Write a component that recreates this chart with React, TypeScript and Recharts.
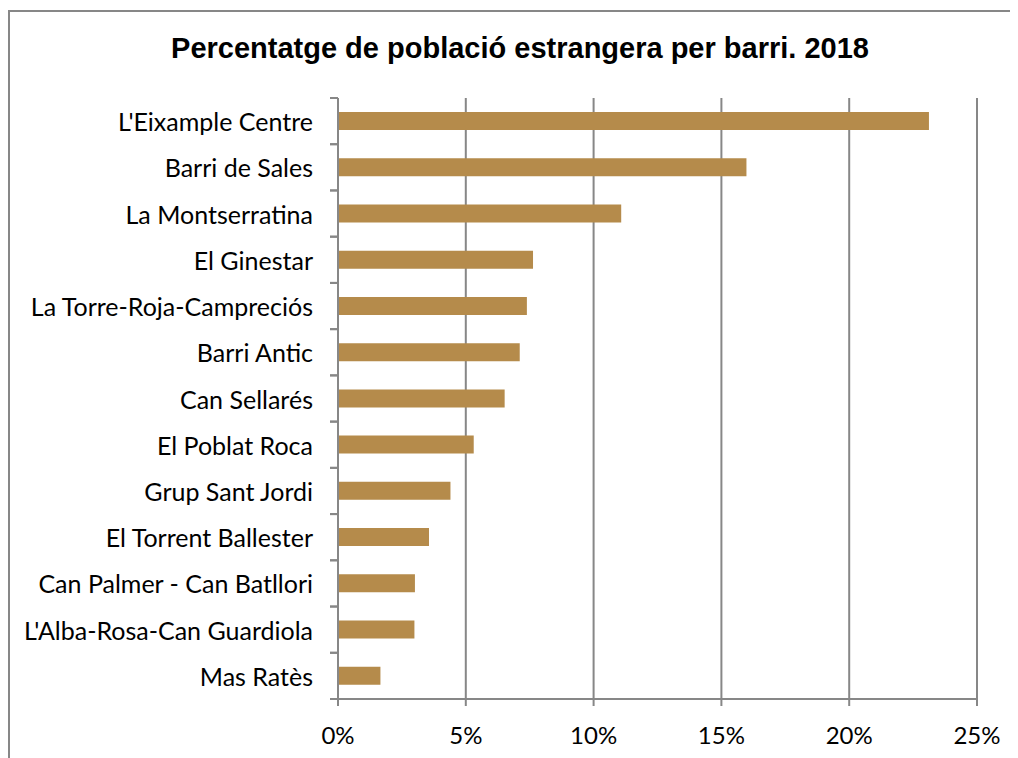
import React from "react";
import { BarChart, Bar, XAxis, YAxis, CartesianGrid } from "recharts";

const title = "Percentatge de població estrangera per barri. 2018";
const barris = [
  "L'Eixample Centre",
  "Barri de Sales",
  "La Montserratina",
  "El Ginestar",
  "La Torre-Roja-Campreciós",
  "Barri Antic",
  "Can Sellarés",
  "El Poblat Roca",
  "Grup Sant Jordi",
  "El Torrent Ballester",
  "Can Palmer - Can Batllori",
  "L'Alba-Rosa-Can Guardiola",
  "Mas Ratès",
];
const percentatges = [23.12, 15.98, 11.08, 7.63, 7.39, 7.11, 6.52, 5.31, 4.4, 3.56, 3.01, 2.99, 1.66];
const xTicks = [0, 5, 10, 15, 20, 25];

const data = barris.map((name, i) => ({ name, value: percentatges[i] }));

const W = 1010;
const H = 750;
const MARGIN = { top: 90, right: 41, bottom: 9, left: 0 };
const X_AXIS_H = 50;
const Y_AXIS_W = 330;
const GRAY = "#878787";
const FONT = "Lato, 'Open Sans', sans-serif";
const HALF_BAND = (H - MARGIN.top - MARGIN.bottom - X_AXIS_H) / barris.length / 2;

const YTick = (props: any) => {
  const { x, y, payload } = props;
  return (
    <g>
      <line x1={x - 8} x2={x} y1={y - HALF_BAND} y2={y - HALF_BAND} stroke={GRAY} strokeWidth={2} />
      <line x1={x - 8} x2={x} y1={y + HALF_BAND} y2={y + HALF_BAND} stroke={GRAY} strokeWidth={2} />
      <text
        x={x - 25}
        y={y}
        textAnchor="end"
        dominantBaseline="central"
        fontFamily={FONT}
        fontSize={25}
        fill="#000"
      >
        {payload.value}
      </text>
    </g>
  );
};

export default function App() {
  return (
    <div style={{ position: "relative", width: W, height: H, background: "#fff", overflow: "hidden" }}>
      <style>{`html, body { overflow: hidden; }`}</style>
      <svg
        width={W}
        height={H}
        style={{ position: "absolute", left: 0, top: 0, display: "block" }}
      >
        <path d={`M1,${H} L1,3 L${W},3`} fill="none" stroke={GRAY} strokeWidth={2} />
      </svg>
      <div
        style={{
          position: "absolute",
          left: 22,
          top: 22,
          width: 980,
          textAlign: "center",
          fontFamily: "'Liberation Sans', Arial, sans-serif",
          fontWeight: "bold",
          fontSize: 29,
          lineHeight: "36px",
          color: "#000",
          whiteSpace: "nowrap",
        }}
      >
        {title}
      </div>
      <div style={{ position: "absolute", left: 0, top: 0 }}>
        <BarChart width={W} height={H} data={data} layout="vertical" margin={MARGIN} barSize={18}>
          <CartesianGrid horizontal={false} vertical={true} stroke={GRAY} strokeWidth={2} />
          <XAxis
            type="number"
            domain={[0, 25]}
            ticks={xTicks}
            tickFormatter={(v: number) => `${v}%`}
            height={X_AXIS_H}
            axisLine={{ stroke: GRAY, strokeWidth: 2 }}
            tickLine={{ stroke: GRAY, strokeWidth: 2 }}
            tickSize={7}
            tickMargin={21}
            tick={{ fill: "#000", fontSize: 24, fontFamily: FONT }}
            interval={0}
          />
          <YAxis
            type="category"
            dataKey="name"
            width={Y_AXIS_W}
            axisLine={{ stroke: GRAY, strokeWidth: 2 }}
            tickLine={false}
            tickSize={0}
            tickMargin={0}
            tick={<YTick />}
            interval={0}
          />
          <Bar dataKey="value" fill="#B58B4B" isAnimationActive={false} />
        </BarChart>
      </div>
    </div>
  );
}
